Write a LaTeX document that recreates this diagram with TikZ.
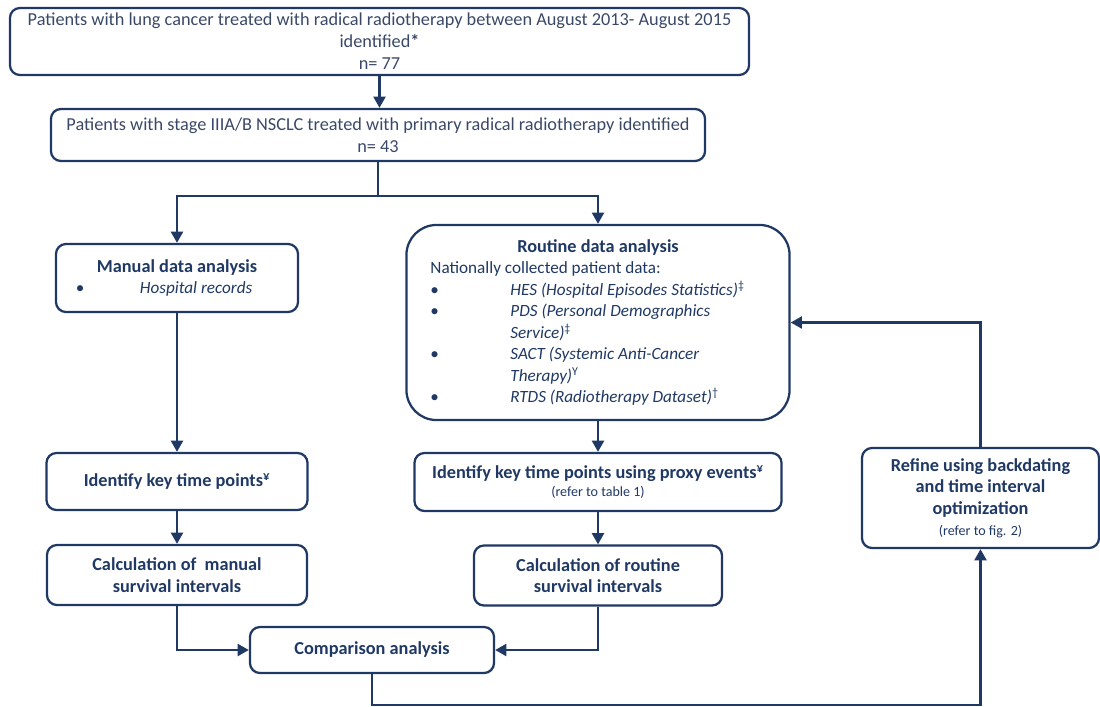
\documentclass[tikz,border=0pt]{standalone}
\usepackage{fontspec}
\setmainfont{Carlito}
\usetikzlibrary{arrows.meta}
\definecolor{navy}{RGB}{31,56,100}
\definecolor{slate}{RGB}{58,72,104}
\newcommand{\dotline}[2][1.6cm]{\makebox[#1][l]{\textbullet}\textit{#2}}

\begin{document}
\fontsize{12.2}{15.3}\selectfont
\begin{tikzpicture}[x=0.025cm,y=-0.025cm,
  flowbox/.style={draw=navy,line width=1.6pt,rounded corners=0.25cm,text=navy,align=center,inner sep=0pt},
  wire/.style={draw=navy,line width=1.7pt},
  link/.style={wire,-{Triangle[length=8pt,width=8.5pt]}}]
\useasboundingbox (0,0) rectangle (1100,706);
\node[flowbox,text=slate,font=\fontsize{13}{15.6}\selectfont,minimum width=18.475cm,minimum height=1.675cm](all) at (379.5,41.5){Patients with lung cancer treated with radical radiotherapy between August 2013- August 2015\\identified\textbf{*}\\n= 77};
\node[flowbox,text=slate,font=\fontsize{13}{15.6}\selectfont,minimum width=16.35cm,minimum height=1.3cm](stage) at (378,135){Patients with stage IIIA/B NSCLC treated with primary radical radiotherapy identified\\n= 43};
\node[flowbox,minimum width=6.05cm,minimum height=1.7cm](manual) at (177,278){\textbf{\fontsize{13}{15.3}\selectfont Manual data analysis}\\\makebox[5.05cm][l]{\dotline{Hospital records}}};
\node[flowbox,rounded corners=0.75cm,minimum width=9.575cm,minimum height=4.875cm](routine) at (598,322.5){\textbf{\fontsize{13}{15.3}\selectfont Routine data analysis}\\
  \makebox[8.375cm][l]{Nationally collected patient data:}\\
  \makebox[8.375cm][l]{\dotline[2cm]{HES (Hospital Episodes Statistics)}\textsuperscript{‡}}\\
  \makebox[8.375cm][l]{\dotline[2cm]{PDS (Personal Demographics}}\\
  \makebox[8.375cm][l]{\hspace*{2cm}\textit{Service)}\textsuperscript{‡}}\\
  \makebox[8.375cm][l]{\dotline[2cm]{SACT (Systemic Anti-Cancer}}\\
  \makebox[8.375cm][l]{\hspace*{2cm}\textit{Therapy)}\textsuperscript{Y}}\\
  \makebox[8.375cm][l]{\dotline[2cm]{RTDS (Radiotherapy Dataset)}\textsuperscript{†}}};
\node[flowbox,font=\fontsize{13}{15.3}\selectfont\bfseries,minimum width=6.525cm,minimum height=1.425cm](ident1) at (177,481.5){Identify key time points\textsuperscript{¥}};
\node[flowbox,font=\fontsize{13}{15.3}\selectfont\bfseries,minimum width=9.175cm,minimum height=1.45cm](ident2) at (598,482){Identify key time points using proxy events\textsuperscript{¥}\\[-2pt]{\mdseries\fontsize{10}{12}\selectfont (refer to table 1)}};
\node[flowbox,font=\fontsize{13}{15.3}\selectfont\bfseries,minimum width=6.5cm,minimum height=1.5cm](calc1) at (177,575){Calculation of\ \ manual\\survival intervals};
\node[flowbox,font=\fontsize{13}{15.3}\selectfont\bfseries,minimum width=6.2cm,minimum height=1.5cm](calc2) at (598,575.5){Calculation of routine\\survival intervals};
\node[flowbox,font=\fontsize{13}{15.3}\selectfont\bfseries,minimum width=6.1cm,minimum height=1.15cm](comp) at (372,650){Comparison analysis};
\node[flowbox,font=\fontsize{13}{15.6}\selectfont\bfseries,minimum width=5.925cm,minimum height=2.5cm](refine) at (980.5,498){Refine using backdating\\and time interval\\optimization\\[-1pt]{\mdseries\fontsize{10}{12}\selectfont (refer to fig. 2)}};
% connectors
\draw[link] (all.south) -- (all.south |- stage.north);
\draw[wire] (stage.south) -- ++(0,34) coordinate (fork);
\draw[link] (fork) -| (manual.north);
\draw[link] (fork) -| (routine.north);
\draw[link] (manual) -- (ident1);
\draw[link] (routine) -- (ident2);
\draw[link] (ident1) -- (calc1);
\draw[link] (ident2) -- (calc2);
\draw[link] (calc1) |- (comp);
\draw[link] (calc2) |- (comp);
\draw[link] (comp.south) -- ++(0,31) -| (refine.south);
\draw[link] (refine.north) |- (routine.east);
\end{tikzpicture}
\end{document}
